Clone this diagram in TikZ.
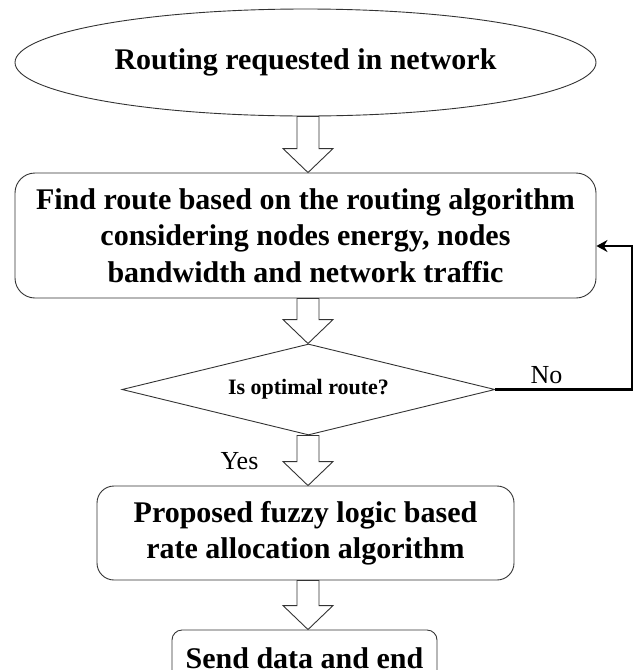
\documentclass[tikz,border=0pt]{standalone}
\usepackage{fontspec}
\setmainfont{Liberation Serif}
\usetikzlibrary{shapes,arrows,arrows.meta,calc}

\newcommand{\blockarrow}[3]{%
  \draw[blk] let \p1=(#1.south), \p2=(#2.north), \p3=(#3,0) in
    (\x3-11pt,\y1) -- (\x3-11pt,\y2+24pt) -- (\x3-25pt,\y2+24pt) -- (\x3,\y2)
    -- (\x3+25pt,\y2+24pt) -- (\x3+11pt,\y2+24pt) -- (\x3+11pt,\y1) -- cycle;}

\begin{document}
\begin{tikzpicture}[x=1pt, y=-1pt]
\tikzstyle{start} = [ellipse, draw=black!80, line width=0.9pt, minimum width=581pt, minimum height=107pt, inner sep=0pt, font=\fontsize{30}{36}\selectfont\bfseries]
\tikzstyle{box} = [rectangle, draw=black!80, line width=0.9pt, align=center, inner sep=0pt, font=\fontsize{30}{36.5}\selectfont\bfseries]
\tikzstyle{decision} = [diamond, draw=black!80, line width=0.9pt, aspect=4, minimum width=373pt, minimum height=91pt, inner sep=0pt, font=\fontsize{22}{26}\selectfont\bfseries]
\tikzstyle{blk} = [draw=black!80, fill=white, line width=0.9pt, line join=miter]
\tikzstyle{arrow} = [line width=2.5pt, -{Stealth[length=11pt,width=12pt]}]
\tikzstyle{lbl} = [font=\fontsize{26}{30}\selectfont]
\useasboundingbox (0,0) rectangle (636,670);

\node [start] (req) at (305.5,62.5) {Routing requested in network};
\node [box, rounded corners=20pt, minimum width=581pt, minimum height=125pt] (find) at (305.5,235.5) {Find route based on the routing algorithm\\considering nodes energy, nodes\\bandwidth and network traffic};
\node [decision] (opt) at (308.5,389.5) {Is optimal route?};
\node [box, rounded corners=17pt, minimum width=417pt, minimum height=94pt] (fuzzy) at (305.5,533) {Proposed fuzzy logic based\\rate allocation algorithm};
\node [box, rounded corners=10pt, minimum width=265pt, minimum height=56pt] (send) at (304.5,658) {Send data and end};

\blockarrow{req}{find}{308}
\blockarrow{find}{opt}{308}
\blockarrow{opt}{fuzzy}{308}
\blockarrow{fuzzy}{send}{308}

\coordinate (back) at (632,389.5);
\draw [arrow] (opt.east) -- (back) |- ([yshift=-10.5pt]find.east);
\node [lbl, anchor=base west] (no) at (527,383) {No};
\node [lbl, anchor=base west] (yes) at (217,469) {Yes};
\end{tikzpicture}
\end{document}
